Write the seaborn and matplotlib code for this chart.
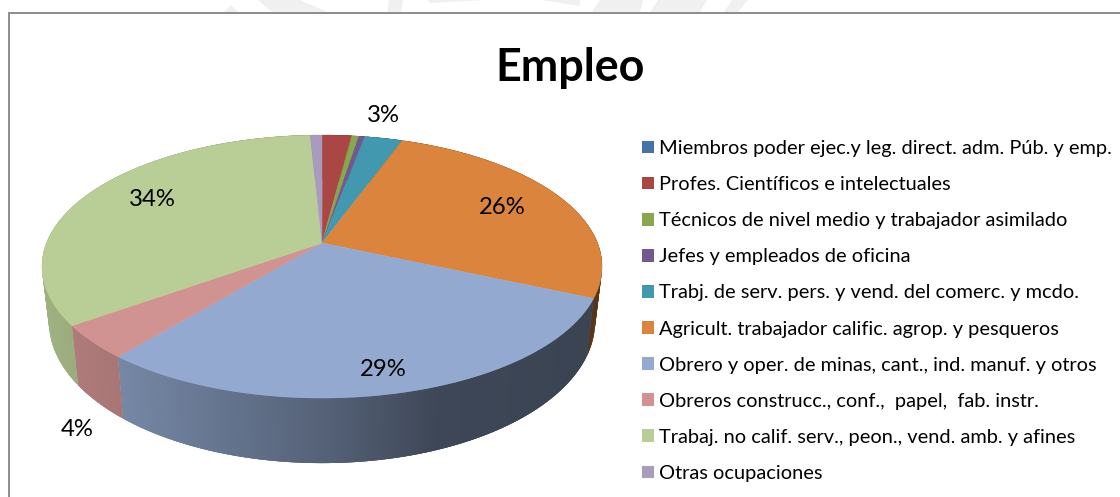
import numpy as np
import matplotlib
matplotlib.use("Agg")
import matplotlib.pyplot as plt
from matplotlib.collections import PolyCollection
from matplotlib.patches import Patch, Rectangle
import seaborn as sns

categories = [
    "Miembros poder ejec.y leg. direct. adm. Púb. y emp.",
    "Profes. Científicos e intelectuales",
    "Técnicos de nivel medio y trabajador asimilado",
    "Jefes y empleados de oficina",
    "Trabj. de serv. pers. y vend. del comerc. y mcdo.",
    "Agricult. trabajador calific. agrop. y pesqueros",
    "Obrero y oper. de minas, cant., ind. manuf. y otros",
    "Obreros construcc., conf.,  papel,  fab. instr.",
    "Trabaj. no calif. serv., peon., vend. amb. y afines",
    "Otras ocupaciones",
]
values = [0.03, 2.0, 0.5, 0.4, 2.6, 26.1, 29.4, 4.1, 34.1, 0.8]
colors = ["#4572A7", "#AA4643", "#89A54E", "#71588F", "#4198AF",
          "#DB843D", "#93A9CF", "#D19392", "#B9CD96", "#A99BBD"]

# only these slices carry a label in the chart (index: pixel position)
label_pos = {4: (383, 116), 5: (502, 207), 6: (383, 369), 7: (77, 429), 8: (152, 199)}

# faint watermark showing above the frame
watermark = [
    [(224, 12), (231, 5), (238, 12)],
    [(258, 0), (300, 0), (327, 12), (272, 12)],
    [(389, 0), (403, 0), (401, 12), (387, 12)],
    [(427, 0), (485, 0), (430, 3)],
    [(542, 0), (580, 0), (580, 6)],
    [(592, 12), (600, 0), (643, 0), (640, 12)],
    [(650, 12), (658, 0), (707, 0), (700, 12)],
    [(724, 12), (732, 0), (748, 0), (738, 12)],
]

sns.set_theme(style="white")
plt.rcParams["font.family"] = ["Lato", "DejaVu Sans"]
palette = sns.color_palette(colors)

fig = plt.figure(figsize=(11.2, 4.97), dpi=100)
ax = fig.add_axes([0, 0, 1, 1])
ax.set_xlim(0, 1120)
ax.set_ylim(497, 0)
ax.axis("off")

# perspective of the tilted disc
cx, cy = 322, 243
p, a, b = 0.179, 275.5, 127.3
depth, shrink = 53.4, 0.975


def top_edge(theta):
    w = 1 + p * np.cos(theta)
    return cx + a * np.sin(theta) / w, cy - b * np.cos(theta) / w


def low_edge(theta):
    x, y = top_edge(theta)
    return cx + (x - cx) * shrink, y + depth / (1 + p * np.cos(theta))


def shade(x):
    return np.interp(x, [42, 120, 322, 440, 600], [0.86, 0.8, 0.58, 0.42, 0.4])


ax.add_collection(PolyCollection(watermark, facecolors="#f0f0f0", edgecolors="none"))

# frame of the chart
ax.add_patch(Rectangle((8.5, 12.5), 1200, 600, fc="white", ec="#8c8c8c", lw=1.4))

edges = np.radians(np.cumsum([0] + values) * 360 / sum(values))

# side wall first, strips overlap the next one so no seams show
for i, col in enumerate(palette):
    n = max(int((edges[i + 1] - edges[i]) * 200), 2)
    t = np.linspace(edges[i], edges[i + 1], n + 1)
    xt, yt = top_edge(t)
    xl, yl = low_edge(t)
    quads, fc = [], []
    for j in range(n):
        k = min(j + 3, n)
        quads.append(list(zip(xt[j:k + 1], yt[j:k + 1])) + list(zip(xl[j:k + 1], yl[j:k + 1]))[::-1])
        fc.append(tuple(np.array(col) * shade((xt[j] + xt[j + 1]) / 2)))
    ax.add_collection(PolyCollection(quads, facecolors=fc, edgecolors="none"))

# top of the pie
for i, col in enumerate(palette):
    t = np.linspace(edges[i], edges[i + 1], 200)
    x, y = top_edge(t)
    ax.fill(np.r_[cx, x], np.r_[cy, y], color=col, lw=0.3)

for i, pos in label_pos.items():
    ax.text(pos[0], pos[1], f"{values[i]:.0f}%", ha="center", va="center", fontsize=17.2, color="black")

ax.text(570, 68, "Empleo", ha="center", va="center", fontsize=32.3, fontweight="bold", color="black")

handles = [Patch(facecolor=c, edgecolor="none") for c in palette]
ax.legend(handles, categories, loc="upper left", bbox_to_anchor=(642 / 1120, 1 - 140 / 497),
          frameon=False, fontsize=14.4, labelspacing=0.955, handlelength=0.6, handleheight=0.6,
          handletextpad=0.25, borderpad=0, borderaxespad=0, labelcolor="black")

fig.savefig("out.png", dpi=100)
